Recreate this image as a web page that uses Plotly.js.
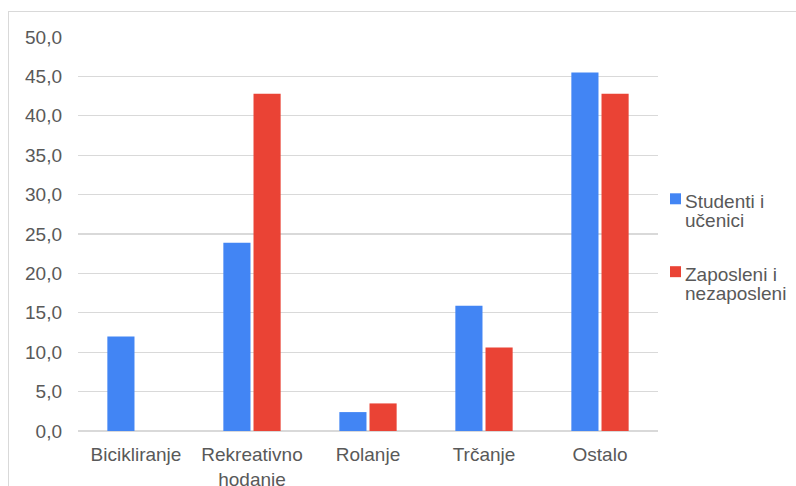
<!DOCTYPE html>
<html>
<head>
<meta charset="utf-8">
<script src="https://cdn.plot.ly/plotly-3.0.1.min.js"></script>
<style>
html,body{margin:0;padding:0;background:#fff;overflow:hidden;}
#frame{position:absolute;left:8px;top:11px;width:800px;height:490px;border-top:1.5px solid #d9d9d9;border-left:1.5px solid #d9d9d9;}
#chart{position:absolute;left:0;top:0;width:796px;height:486px;}
</style>
</head>
<body>
<div id="frame"></div>
<div id="chart"></div>
<script>
const categories = ["Bicikliranje", "Rekreativno<br>hodanje", "Rolanje", "Trčanje", "Ostalo"];
const seriesNames = ["Studenti i<br>učenici", "Zaposleni i<br>nezaposleni"];
const studenti = [12.0, 23.9, 2.4, 15.9, 45.5];
const zaposleni = [0, 42.8, 3.5, 10.6, 42.8];
const colors = ["#4285F4", "#EA4335"];

const FONT = "'Liberation Sans', Arial, sans-serif";
const TXT = "#595959";
const FS = 19;

const traces = [studenti, zaposleni].map((vals, i) => ({
  type: "bar",
  x: categories,
  y: vals,
  name: seriesNames[i],
  marker: {color: colors[i]},
  hoverinfo: "skip"
}));

// custom legend (square marker + text lines)
const legendTop = [0.6033, 0.4183];   // paper y of top of marker square
const sq = 11 / 394.5;                 // square height in paper units
const sqW = 11 / 580;
const lineStep = 19.5 / 394.5;
const annotations = [];
const shapes = [];
seriesNames.forEach((nm, i) => {
  shapes.push({
    type: "rect", xref: "paper", yref: "paper",
    x0: 1.0207, x1: 1.0207 + sqW,
    y0: legendTop[i] - sq, y1: legendTop[i],
    fillcolor: colors[i], line: {width: 0}
  });
  nm.split("<br>").forEach((ln, j) => {
    annotations.push({
      xref: "paper", yref: "paper",
      x: 1.043, xanchor: "left",
      y: legendTop[i] - 0.0205 - j * lineStep, yanchor: "middle",
      text: ln, showarrow: false,
      font: {family: FONT, size: FS, color: TXT}
    });
  });
});

const layout = {
  width: 796, height: 486,
  margin: {l: 78, r: 138, t: 36.5, b: 55, autoexpand: false},
  paper_bgcolor: "rgba(0,0,0,0)",
  plot_bgcolor: "rgba(0,0,0,0)",
  separators: ",.",
  font: {family: FONT, size: FS, color: TXT},
  barmode: "group",
  bargap: 0.48,
  bargroupgap: 0.1,
  showlegend: false,
  xaxis: {
    range: [-0.5, 4.5],
    showgrid: false,
    showline: false,
    ticks: "",
    ticklabelstandoff: 10,
    tickfont: {family: FONT, size: FS, color: TXT},
    fixedrange: true
  },
  yaxis: {
    range: [0, 50],
    dtick: 5,
    tick0: 0,
    tickformat: ".1f",
    gridcolor: "#d9d9d9",
    gridwidth: 1.3,
    zeroline: true,
    zerolinecolor: "#d9d9d9",
    zerolinewidth: 1.3,
    showline: false,
    ticks: "",
    ticklabelstandoff: 15,
    tickfont: {family: FONT, size: FS, color: TXT},
    fixedrange: true
  },
  annotations: annotations,
  shapes: shapes
};

Plotly.newPlot("chart", traces, layout, {displayModeBar: false, staticPlot: true});
</script>
</body>
</html>
